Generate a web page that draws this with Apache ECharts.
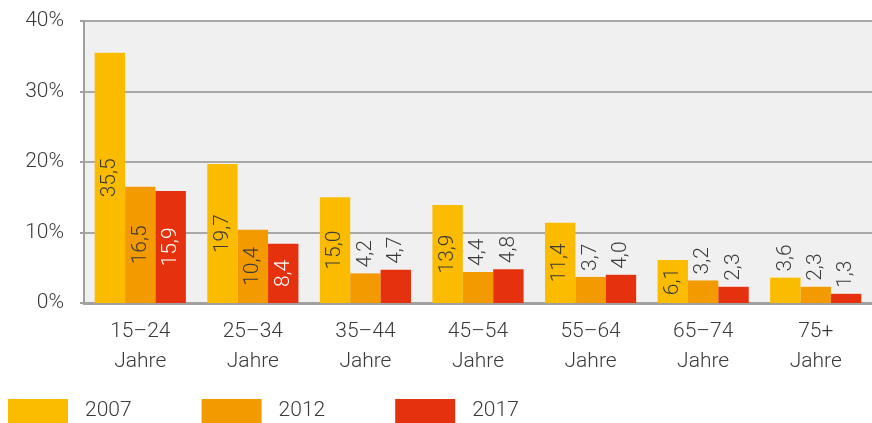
<!DOCTYPE html>
<html>
<head>
<meta charset="utf-8">
<script src="https://cdn.jsdelivr.net/npm/echarts@6/dist/echarts.min.js"></script>
<style>
  html, body { margin: 0; padding: 0; background: #fff; }
  #main { width: 872px; height: 423px; }
</style>
</head>
<body>
<div id="main"></div>
<script>
// Altersgruppen und Werte (%)
var categories = ['15–24\nJahre', '25–34\nJahre', '35–44\nJahre', '45–54\nJahre', '55–64\nJahre', '65–74\nJahre', '75+\nJahre'];
var years = ['2007', '2012', '2017'];
var v2007 = [35.5, 19.7, 15.0, 13.9, 11.4, 6.1, 3.6];
var v2012 = [16.5, 10.4, 4.2, 4.4, 3.7, 3.2, 2.3];
var v2017 = [15.9, 8.4, 4.7, 4.8, 4.0, 2.3, 1.3];
var colors = ['#fbbc00', '#f39a00', '#e5310e'];

var font = 'Roboto';
var txt = '#3a3a3a';

function makeData(vals, insideColor) {
    return vals.map(function (v) {
        var inside = v >= 6;
        return {
            value: v,
            label: inside ? {
                position: 'inside', rotate: 90, align: 'center', verticalAlign: 'middle',
                color: insideColor
            } : {
                position: 'top', rotate: 90, align: 'left', verticalAlign: 'middle',
                distance: 6, color: txt
            }
        };
    });
}

function series(name, vals, color, insideColor) {
    return {
        name: name,
        type: 'bar',
        barGap: '0%',
        barCategoryGap: '19%',
        itemStyle: { color: color },
        label: {
            show: true,
            fontFamily: font, fontWeight: 300, fontSize: 21,
            formatter: function (p) { return p.value.toFixed(1).replace('.', ','); }
        },
        data: makeData(vals, insideColor)
    };
}

var chart = echarts.init(document.getElementById('main'));
chart.setOption({
    animation: false,
    color: colors,
    grid: {
        left: 84, right: -2, top: 21, bottom: 120,
        show: true, backgroundColor: '#f0f0f0', borderWidth: 0
    },
    legend: {
        left: 3, bottom: -5,
        itemWidth: 60, itemHeight: 24, itemGap: 70,
        icon: 'rect',
        textStyle: { fontFamily: font, fontWeight: 300, fontSize: 21, color: txt, padding: [0, 0, 0, 12] },
        data: years
    },
    xAxis: {
        type: 'category',
        data: categories,
        axisLine: { lineStyle: { color: '#a0a0a0', width: 3 } },
        axisTick: { show: false },
        axisLabel: { fontFamily: font, fontWeight: 300, fontSize: 21, color: txt, lineHeight: 30, margin: 14 }
    },
    yAxis: {
        type: 'value',
        min: 0, max: 40, interval: 10,
        axisLine: { show: true, lineStyle: { color: '#a0a0a0', width: 2 } },
        axisTick: { show: true, length: 4, lineStyle: { color: '#a0a0a0', width: 2 } },
        splitLine: { lineStyle: { color: '#a8a8a8', width: 2 } },
        axisLabel: { formatter: '{value}%', fontFamily: font, fontWeight: 300, fontSize: 21, color: txt, margin: 20 }
    },
    series: [
        series(years[0], v2007, colors[0], txt),
        series(years[1], v2012, colors[1], txt),
        series(years[2], v2017, colors[2], '#ffffff')
    ]
});
</script>
</body>
</html>
